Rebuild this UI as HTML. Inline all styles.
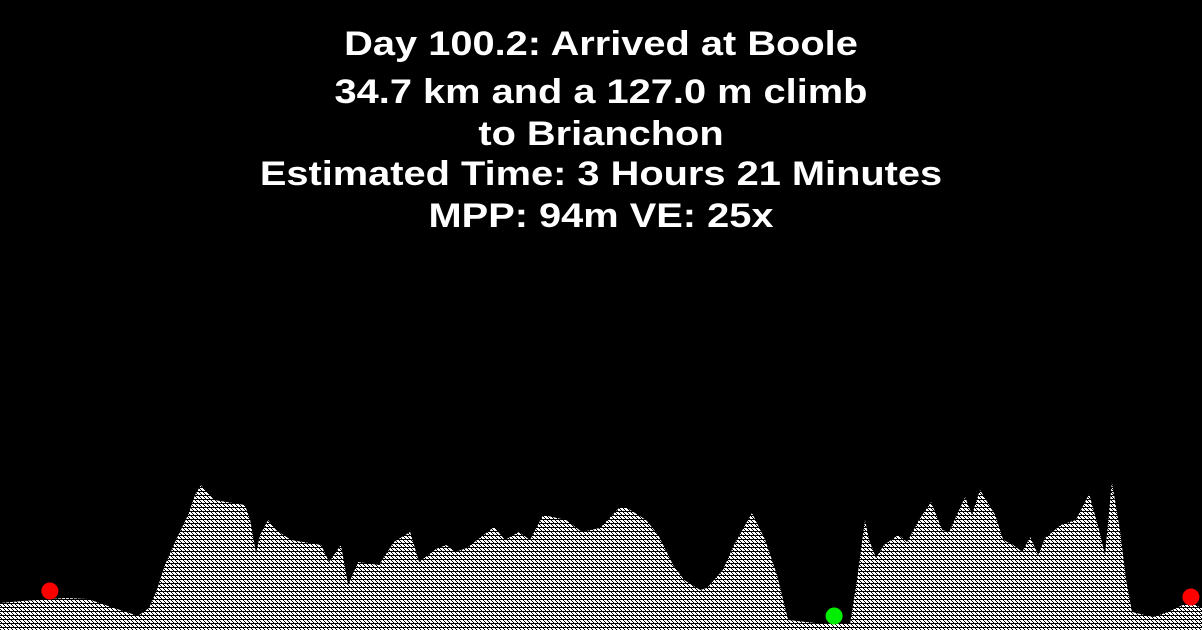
<!DOCTYPE html>
<html><head><meta charset="utf-8"><style>
html,body{margin:0;padding:0;background:#000;}
#wrap{position:relative;width:1202px;height:630px;overflow:hidden;background:#000;}
.t{position:absolute;left:0;width:1202px;text-align:center;color:#fff;font-family:"Liberation Sans",sans-serif;font-weight:bold;font-size:34px;line-height:40px;transform:scaleX(1.17);transform-origin:601px 0;}
svg{position:absolute;left:0;top:0;}
</style></head><body>
<div id="wrap">
<div class="t" style="top:24px">Day 100.2: Arrived at Boole</div>
<div class="t" style="top:72px">34.7 km and a 127.0 m climb</div>
<div class="t" style="top:114px">to Brianchon</div>
<div class="t" style="top:154px">Estimated Time: 3 Hours 21 Minutes</div>
<div class="t" style="top:196px">MPP: 94m VE: 25x</div>
<svg id="svg" width="1202" height="630">
<defs><pattern id="hatch" width="4" height="4" patternUnits="userSpaceOnUse">
<rect x="0" y="0" width="3" height="1" fill="#fff"/>
<rect x="1" y="1" width="3" height="1" fill="#fff"/>
<rect x="0" y="2" width="1" height="1" fill="#fff"/>
<rect x="2" y="2" width="2" height="1" fill="#fff"/>
</pattern></defs>
</svg>
</div>
<script>
const distKm=[0,0.66,1.88,2.54,3.20,3.64,3.98,4.30,4.53,4.76,5.08,5.43,5.63,5.80,6.18,7.07,7.22,7.39,7.51,7.74,7.97,8.40,9.27,9.50,9.84,10.05,10.34,10.94,11.37,11.84,12.10,12.59,12.88,13.14,13.48,14.26,14.58,14.98,15.30,15.68,16.34,16.80,17.32,17.87,18.10,18.65,19.00,19.43,19.75,20.21,20.41,20.87,21.19,21.71,22.09,22.43,22.75,23.53,24.54,24.74,24.97,25.09,25.29,25.52,25.93,26.19,26.53,26.88,27.20,27.40,27.86,28.06,28.29,28.73,28.96,29.25,29.51,29.74,29.97,30.17,30.63,31.06,31.44,31.73,31.90,32.10,32.33,32.51,32.68,33.29,33.72,34.15,34.50,34.70];
const elevM=[27,29,32,31,23,18,14,22,40,65,90,115,135,145,130,125,110,77,95,110,100,90,85,68,85,45,68,65,88,98,68,81,85,78,82,103,90,98,90,115,110,98,102,122,122,110,95,65,50,40,42,60,85,117,90,55,10,7,6,50,110,90,72,85,95,88,110,128,100,98,133,115,140,115,90,85,78,93,75,92,105,110,136,100,75,148,100,50,18,13,18,25,25,22];
const markerKm=[1.44,24.08,34.38];
const markerElev=[39,14,33];
const markerColor=['#ff0000','#00ee00','#ff0000'];
const W=1202,H=630;
const x=d=>d/34.7*W;
const y=e=>H-e;
const svg=document.getElementById('svg');
const NS='http://www.w3.org/2000/svg';
let d='M0,'+H;
for(let i=0;i<distKm.length;i++){d+=' L'+x(distKm[i]).toFixed(1)+','+y(elevM[i]).toFixed(1);}
d+=' L'+W+','+H+' Z';
const p=document.createElementNS(NS,'path');
p.setAttribute('d',d);p.setAttribute('fill','url(#hatch)');


svg.appendChild(p);
for(let i=0;i<markerKm.length;i++){
const c=document.createElementNS(NS,'circle');
c.setAttribute('cx',x(markerKm[i]));c.setAttribute('cy',y(markerElev[i]));c.setAttribute('r',8.5);c.setAttribute('fill',markerColor[i]);


svg.appendChild(c);
}
</script>
</body></html>
